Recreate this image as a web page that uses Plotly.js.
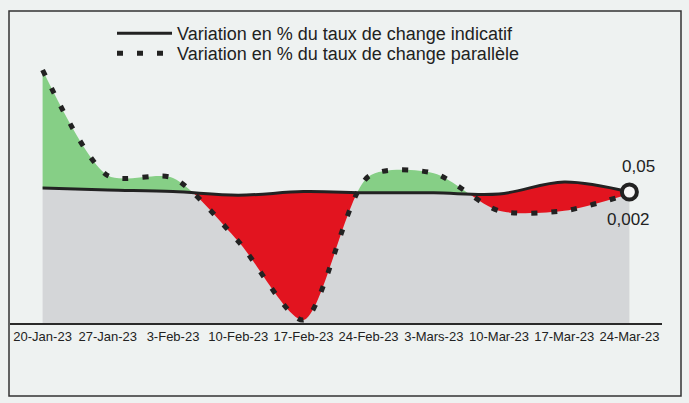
<!DOCTYPE html>
<html>
<head>
<meta charset="utf-8">
<script src="https://cdn.plot.ly/plotly-3.0.1.min.js"></script>
<style>
html, body { margin: 0; padding: 0; background: #eef2f1; }
#chart { width: 689px; height: 403px; }
</style>
</head>
<body>
<div id="chart"></div>
<script>
// ---- data (variation in %) ----
const DATES = ['20-Jan-23', '27-Jan-23', '3-Feb-23', '10-Feb-23', '17-Feb-23',
               '24-Feb-23', '3-Mars-23', '10-Mar-23', '17-Mar-23', '24-Mar-23'];
const INDICATIF = [0.15, 0.10, 0.06, -0.03, 0.06, 0.03, 0.03, 0.00, 0.30, 0.05];
const PARALLELE = [3.10, 0.46, 0.40, -1.18, -3.15, 0.44, 0.52, -0.42, -0.42, 0.002];
const NAME_IND = 'Variation en % du taux de change indicatif';
const NAME_PAR = 'Variation en % du taux de change parallèle';
const Y_RANGE = [-3.225, 4.35];

// ---- styles ----
const GREEN = '#86cf86';
const RED = '#e2141f';
const GREY = '#d4d6d8';
const BG = '#eef2f1';
const INK = '#222222';
const FONT = '"Liberation Sans", Arial, sans-serif';
const PAR_SMOOTH = 0.75;

const last = DATES.length - 1;
const fmt = v => String(v).replace('.', ',');
const col = s => (s > 0 ? GREEN : RED);

function linearCrossings() {
  const c = [];
  for (let i = 1; i < DATES.length; i++) {
    const a = PARALLELE[i - 1] - INDICATIF[i - 1];
    const b = PARALLELE[i] - INDICATIF[i];
    if (a * b < 0) c.push(i - 1 + a / (a - b));
  }
  return c;
}
function buildScale(crossings, firstSign) {
  let s = firstSign;
  const scl = [[0, col(s)]];
  crossings.forEach(c => {
    const f = Math.min(1, Math.max(0, c / last));
    scl.push([f, col(s)]);
    s = -s;
    scl.push([f, col(s)]);
  });
  scl.push([1, col(s)]);
  return scl;
}
const firstSign = Math.sign(PARALLELE[0] - INDICATIF[0]) || 1;

const base = DATES.map(() => Y_RANGE[0]);

const data = [
  { x: DATES, y: base, mode: 'lines', line: { width: 0 }, showlegend: false, hoverinfo: 'skip' },
  { x: DATES, y: INDICATIF, mode: 'lines', line: { width: 0, shape: 'spline' },
    fill: 'tonexty', fillcolor: GREY, showlegend: false, hoverinfo: 'skip' },
  { x: DATES, y: PARALLELE, mode: 'lines', line: { width: 0, shape: 'spline', smoothing: PAR_SMOOTH },
    fill: 'tonexty', fillcolor: GREEN,
    fillgradient: { type: 'horizontal', colorscale: buildScale(linearCrossings(), firstSign) },
    showlegend: false, hoverinfo: 'skip' },
  { x: DATES, y: INDICATIF, name: NAME_IND, mode: 'lines', legend: 'legend',
    line: { color: INK, width: 3, shape: 'spline' } },
  { x: DATES, y: PARALLELE, name: NAME_PAR, mode: 'lines', legend: 'legend2',
    line: { color: INK, width: 5, shape: 'spline', smoothing: PAR_SMOOTH, dash: '6px,14px' } },
  { x: [DATES[last]], y: [INDICATIF[last]], mode: 'markers', showlegend: false, hoverinfo: 'skip',
    marker: { size: 15, color: '#f6f6f6', line: { color: INK, width: 4 } } }
];

const L = 10, R = 27, T = 20, B = 80, W = 689, H = 403;
const pw = W - L - R, ph = H - T - B;
const px2x = p => (p - L) / pw;
const px2y = p => (H - B - p) / ph;

const legendStyle = top => ({
  x: px2x(112), y: px2y(top), xanchor: 'left', yanchor: 'top',
  font: { size: 18, color: INK, family: FONT }, bgcolor: 'rgba(0,0,0,0)',
  itemwidth: 55, traceorder: 'normal'
});

const layout = {
  width: W, height: H,
  margin: { l: L, r: R, t: T, b: B },
  paper_bgcolor: BG, plot_bgcolor: BG,
  font: { family: FONT, color: INK },
  xaxis: { type: 'category', range: [-0.5, last + 0.5], showline: true, linecolor: '#2a2a2a',
           linewidth: 2, ticks: '', showgrid: false, zeroline: false,
           tickfont: { size: 13, color: INK, family: FONT } },
  yaxis: { range: Y_RANGE, visible: false, showgrid: false, zeroline: false },
  showlegend: true,
  legend: legendStyle(15),
  legend2: legendStyle(35),
  shapes: [{ type: 'rect', xref: 'paper', yref: 'paper',
             x0: px2x(9), x1: px2x(681), y0: px2y(396), y1: px2y(11),
             line: { color: '#333', width: 1.5 } }],
  annotations: [
    { x: DATES[last], y: INDICATIF[last], text: fmt(INDICATIF[last]), showarrow: false,
      xshift: 9, yshift: 26, font: { size: 17, color: INK, family: FONT } },
    { x: DATES[last], y: PARALLELE[last], text: fmt(PARALLELE[last]), showarrow: false,
      xshift: -1, yshift: -26, font: { size: 17, color: INK, family: FONT } }
  ]
};

function samplePath(p) {
  const len = p.getTotalLength();
  const pts = [];
  for (let s = 0; s <= len; s += 0.5) { const q = p.getPointAtLength(s); pts.push([q.x, q.y]); }
  pts.sort((a, b) => a[0] - b[0]);
  return pts;
}
function resample(pts, grid) {
  const out = []; let j = 1;
  grid.forEach(x => {
    while (j < pts.length - 1 && pts[j][0] < x) j++;
    const a = pts[j - 1], b = pts[j];
    const t = (b[0] - a[0]) ? (x - a[0]) / (b[0] - a[0]) : 0;
    out.push(a[1] + t * (b[1] - a[1]));
  });
  return out;
}

const gd = document.getElementById('chart');
Plotly.newPlot(gd, data, layout, { staticPlot: true, displayModeBar: false }).then(() => {
  try {
    const groups = gd.querySelectorAll('.scatterlayer .trace');
    const pInd = groups[3].querySelector('path.js-line');
    const pPar = groups[4].querySelector('path.js-line');
    const sInd = samplePath(pInd), sPar = samplePath(pPar);
    const xa = gd._fullLayout.xaxis;
    const x0 = xa.l2p(0), x1 = xa.l2p(last);
    const grid = [];
    for (let p = x0 + 1; p < x1 - 1; p += 0.25) grid.push(p);
    const yi = resample(sInd, grid), yp = resample(sPar, grid);
    const cr = []; let prev = null;
    grid.forEach((p, k) => {
      const d = yi[k] - yp[k];
      if (prev !== null && prev * d < 0) cr.push(xa.p2l(p));
      if (d !== 0) prev = d;
    });
    if (cr.length) {
      Plotly.restyle(gd, { fillgradient: [{ type: 'horizontal', colorscale: buildScale(cr, firstSign) }] }, [2]);
    }
  } catch (e) { console.log(e); }
});
</script>
</body>
</html>
